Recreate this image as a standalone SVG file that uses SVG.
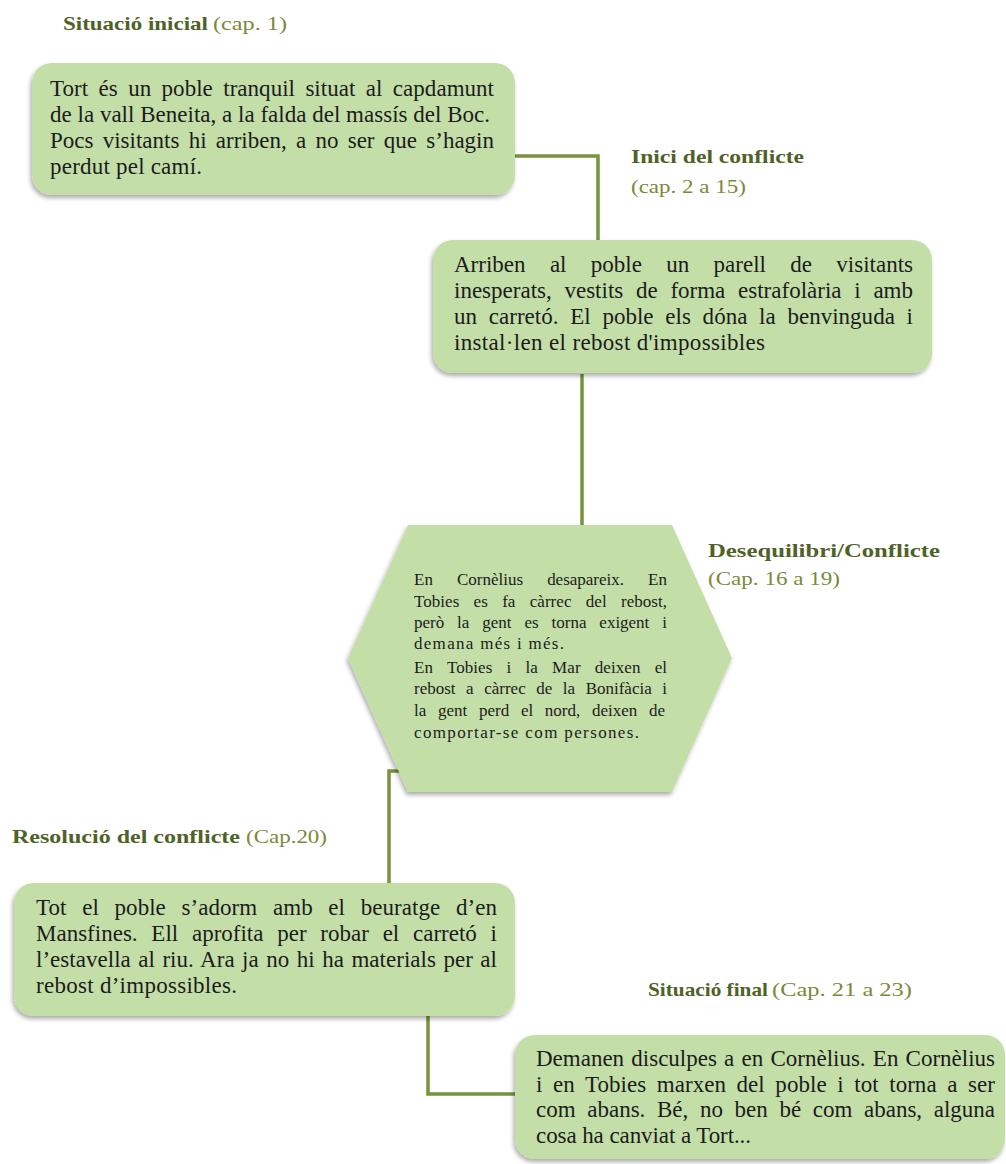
<svg xmlns="http://www.w3.org/2000/svg" width="1006" height="1164" viewBox="0 0 1006 1164">
<defs>
<filter id="sh" x="-5%" y="-10%" width="110%" height="130%">
<feDropShadow dx="-1.5" dy="3" stdDeviation="2.2" flood-color="#000" flood-opacity="0.32"/>
</filter>
<style>
.box{fill:#c4dea8;filter:url(#sh);}
.t{font-family:"Liberation Serif","DejaVu Serif",serif;font-size:23px;fill:#1c1c1c;}
.ts{font-family:"Liberation Serif","DejaVu Serif",serif;font-size:17px;fill:#1c1c1c;}
.hb{font-family:"Liberation Serif","DejaVu Serif",serif;font-size:19px;font-weight:bold;fill:#4f6228;}
.hn{font-family:"Liberation Serif","DejaVu Serif",serif;font-size:19px;fill:#7a8a3a;}
.c{fill:none;stroke:#77933c;stroke-width:3.5;}
</style>
</defs>
<rect width="1006" height="1164" fill="#ffffff"/>

<g id="connectors">
<polyline class="c" points="515,156 598,156 598,241"/>
<polyline class="c" points="582,374 582,527"/>
<polyline class="c" points="401,771 389,771 389,884"/>
<polyline class="c" points="348,1013 428,1013 428,1094 516,1094"/>
</g>

<g id="n1">
<text class="hb" x="63" y="30" textLength="145" lengthAdjust="spacingAndGlyphs">Situació inicial</text>
<text class="hn" x="213" y="30" textLength="74" lengthAdjust="spacingAndGlyphs">(cap. 1)</text>
<rect class="box" x="32" y="63" width="483" height="132" rx="20"/>
<text class="t" x="50" y="96" word-spacing="4.6" textLength="444" lengthAdjust="spacing">Tort és un poble tranquil situat al capdamunt</text>
<text class="t" x="50" y="122" textLength="440" lengthAdjust="spacing">de la vall Beneita, a la falda del massís del Boc.</text>
<text class="t" x="50" y="148" word-spacing="3.5" textLength="444" lengthAdjust="spacing">Pocs visitants hi arriben, a no ser que s’hagin</text>
<text class="t" x="50" y="174" textLength="152" lengthAdjust="spacing">perdut pel camí.</text>
</g>

<g id="n2">
<text class="hb" x="631" y="163" textLength="173" lengthAdjust="spacingAndGlyphs">Inici del conflicte</text>
<text class="hn" x="631" y="193" textLength="115" lengthAdjust="spacingAndGlyphs">(cap. 2 a 15)</text>
<rect class="box" x="433" y="240" width="499" height="133" rx="20"/>
<text class="t" x="454" y="272" word-spacing="18.6" textLength="459" lengthAdjust="spacing">Arriben al poble un parell de visitants</text>
<text class="t" x="454" y="298" word-spacing="7" textLength="459" lengthAdjust="spacing">inesperats, vestits de forma estrafolària i amb</text>
<text class="t" x="454" y="324" word-spacing="6" textLength="459" lengthAdjust="spacing">un carretó. El poble els dóna la benvinguda i</text>
<text class="t" x="454" y="350" textLength="311" lengthAdjust="spacing">instal·len el rebost d'impossibles</text>
</g>

<g id="n3">
<text class="hb" x="708" y="557" textLength="232" lengthAdjust="spacingAndGlyphs">Desequilibri/Conflicte</text>
<text class="hn" x="708" y="585" textLength="132" lengthAdjust="spacingAndGlyphs">(Cap. 16 a 19)</text>
<polygon class="box" points="408,525 672,525 732,658 672,792 408,792 348,658"/>
<text class="ts" x="414" y="585" word-spacing="19.8" textLength="253" lengthAdjust="spacing">En Cornèlius desapareix. En</text>
<text class="ts" x="414" y="607" word-spacing="10" textLength="253" lengthAdjust="spacing">Tobies es fa càrrec del rebost,</text>
<text class="ts" x="414" y="628" word-spacing="8.7" textLength="253" lengthAdjust="spacing">però la gent es torna exigent i</text>
<text class="ts" x="414" y="649" textLength="150" lengthAdjust="spacing">demana més i més.</text>
<text class="ts" x="414" y="673" word-spacing="9.9" textLength="253" lengthAdjust="spacing">En Tobies i la Mar deixen el</text>
<text class="ts" x="414" y="694" word-spacing="6.3" textLength="253" lengthAdjust="spacing">rebost a càrrec de la Bonifàcia i</text>
<text class="ts" x="414" y="716" word-spacing="7.5" textLength="251" lengthAdjust="spacing">la gent perd el nord, deixen de</text>
<text class="ts" x="414" y="738" textLength="225" lengthAdjust="spacing">comportar-se com persones.</text>
</g>

<g id="n4">
<text class="hb" x="12" y="843" textLength="228" lengthAdjust="spacingAndGlyphs">Resolució del conflicte</text>
<text class="hn" x="246" y="843" textLength="81" lengthAdjust="spacingAndGlyphs">(Cap.20)</text>
<rect class="box" x="14" y="883" width="501" height="133" rx="20"/>
<text class="t" x="36" y="915" word-spacing="9.9" textLength="461" lengthAdjust="spacing">Tot el poble s’adorm amb el beuratge d’en</text>
<text class="t" x="36" y="941" word-spacing="8" textLength="461" lengthAdjust="spacing">Mansfines. Ell aprofita per robar el carretó i</text>
<text class="t" x="36" y="967" word-spacing="1.7" textLength="461" lengthAdjust="spacing">l’estavella al riu. Ara ja no hi ha materials per al</text>
<text class="t" x="36" y="993" textLength="201" lengthAdjust="spacing">rebost d’impossibles.</text>
</g>

<g id="n5">
<text class="hb" x="648" y="996" textLength="120" lengthAdjust="spacingAndGlyphs">Situació final</text>
<text class="hn" x="772" y="996" textLength="140" lengthAdjust="spacingAndGlyphs">(Cap. 21 a 23)</text>
<rect class="box" x="515" y="1035" width="490" height="124" rx="20"/>
<text class="t" x="536" y="1066" word-spacing="1.5" textLength="459" lengthAdjust="spacing">Demanen disculpes a en Cornèlius. En Cornèlius</text>
<text class="t" x="536" y="1092" word-spacing="4.8" textLength="459" lengthAdjust="spacing">i en Tobies marxen del poble i tot torna a ser</text>
<text class="t" x="536" y="1117" word-spacing="5.9" textLength="459" lengthAdjust="spacing">com abans. Bé, no ben bé com abans, alguna</text>
<text class="t" x="536" y="1143" textLength="215" lengthAdjust="spacing">cosa ha canviat a Tort...</text>
</g>
</svg>
